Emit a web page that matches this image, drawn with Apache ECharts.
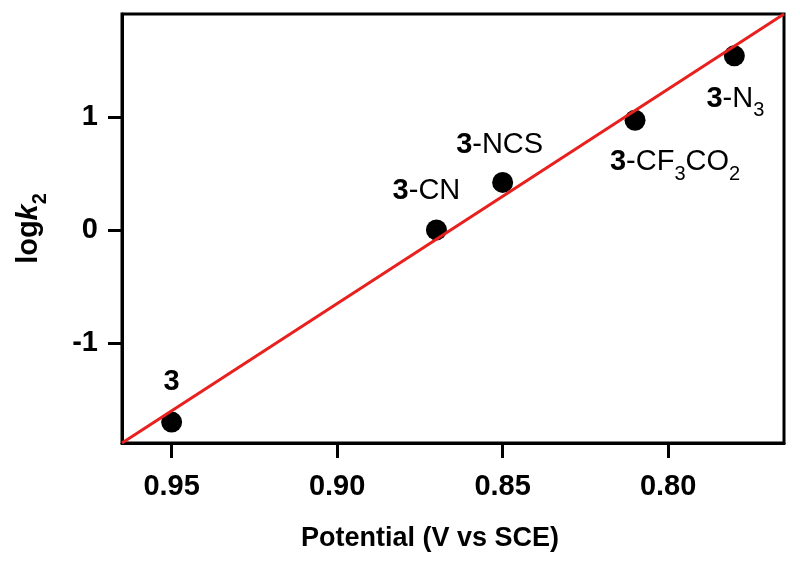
<!DOCTYPE html>
<html>
<head>
<meta charset="utf-8">
<script src="https://cdn.jsdelivr.net/npm/echarts@6/dist/echarts.min.js"></script>
<style>
html,body{margin:0;padding:0;background:#fff;}
#chart{width:800px;height:574px;}
</style>
</head>
<body>
<div id="chart"></div>
<script>
// ---- data ----
const compounds = ['3', '3-CN', '3-NCS', '3-CF3CO2', '3-N3'];
const potentials = [0.95, 0.87, 0.85, 0.81, 0.78];
const logK2 = [-1.70, 0.00, 0.42, 0.97, 1.54];
const fitPotentials = [0.965, 0.765];
const fitLogK2 = [-1.885, 1.91];
const xTickValues = [0.95, 0.90, 0.85, 0.80];
const yTickValues = [-1, 0, 1];

// ---- label text (rich) ----
const labelText = {
  '3': '{b|3}',
  '3-CN': '{b|3}{n|-CN}',
  '3-NCS': '{b|3}{n|-NCS}',
  '3-CF3CO2': '{b|3}{n|-CF}{s|3}{n|CO}{s|2}',
  '3-N3': '{b|3}{n|-N}{s|3}'
};
const labelOffset = {
  '3': [0, -40],
  '3-CN': [-10, -39],
  '3-NCS': [-3, -37],
  '3-CF3CO2': [40, 42],
  '3-N3': [1, 43]
};
const FONT = 'Liberation Sans';
const FS = 29;
const rich = {
  b: {fontSize: FS, fontWeight: 'bold', color: '#000', fontFamily: FONT, verticalAlign: 'middle', lineHeight: 36},
  n: {fontSize: FS, color: '#000', fontFamily: FONT, verticalAlign: 'middle', lineHeight: 36},
  s: {fontSize: 20, color: '#000', fontFamily: FONT, verticalAlign: 'bottom', lineHeight: 20, padding: [0, 0, -4, 0]}
};

const scatterData = compounds.map((c, i) => ({
  value: [potentials[i], logK2[i]],
  label: {
    show: true,
    position: 'inside',
    offset: labelOffset[c],
    formatter: labelText[c],
    color: '#000',
    rich: rich
  }
}));
const fitData = fitPotentials.map((x, i) => [x, fitLogK2[i]]);

const chart = echarts.init(document.getElementById('chart'), null, {renderer: 'canvas'});
chart.setOption({
  animation: false,
  backgroundColor: '#fff',
  grid: {left: 122, right: 16, top: 14, bottom: 131, show: true, borderColor: '#000', borderWidth: 3, containLabel: false},
  xAxis: {
    type: 'value',
    inverse: true,
    min: 0.765, max: 0.965,
    name: 'Potential (V vs SCE)',
    nameLocation: 'middle',
    nameGap: 82,
    nameTextStyle: {fontSize: 27, fontWeight: 'bold', color: '#000', fontFamily: FONT, padding: [0, 46, 0, 0]},
    axisLine: {show: true, onZero: false, lineStyle: {color: '#000', width: 3}},
    axisTick: {show: true, inside: false, length: 15, lineStyle: {color: '#000', width: 3}, customValues: xTickValues},
    axisLabel: {
      show: true, margin: 29, fontSize: 29, fontWeight: 'bold', color: '#000', fontFamily: FONT,
      customValues: xTickValues,
      formatter: v => v.toFixed(2)
    },
    splitLine: {show: false}
  },
  yAxis: {
    type: 'value',
    min: -1.885, max: 1.91,
    name: 'log{i|k}{s|2}',
    nameLocation: 'middle',
    nameRotate: 90,
    nameGap: 76,
    nameTextStyle: {
      fontSize: 29, fontWeight: 'bold', color: '#000', fontFamily: FONT,
      rich: {
        i: {fontSize: 29, fontWeight: 'bold', fontStyle: 'italic', color: '#000', fontFamily: FONT, verticalAlign: 'middle', lineHeight: 34},
        s: {fontSize: 20, fontWeight: 'bold', color: '#000', fontFamily: FONT, verticalAlign: 'bottom', lineHeight: 20, padding: [0, 0, -4, 0]}
      }
    },
    axisLine: {show: true, onZero: false, lineStyle: {color: '#000', width: 3}},
    axisTick: {show: true, inside: false, length: 14, lineStyle: {color: '#000', width: 3}, customValues: yTickValues},
    axisLabel: {
      show: true, margin: 24, fontSize: 29, fontWeight: 'bold', color: '#000', fontFamily: FONT,
      customValues: yTickValues
    },
    splitLine: {show: false}
  },
  series: [
    {
      type: 'line',
      data: fitData,
      symbol: 'none',
      lineStyle: {color: '#e8201e', width: 3},
      z: 3,
      silent: true
    },
    {
      type: 'scatter',
      data: scatterData,
      symbol: 'circle',
      symbolSize: 21,
      itemStyle: {color: '#000', opacity: 1},
      z: 2
    }
  ]
});
</script>
</body>
</html>
